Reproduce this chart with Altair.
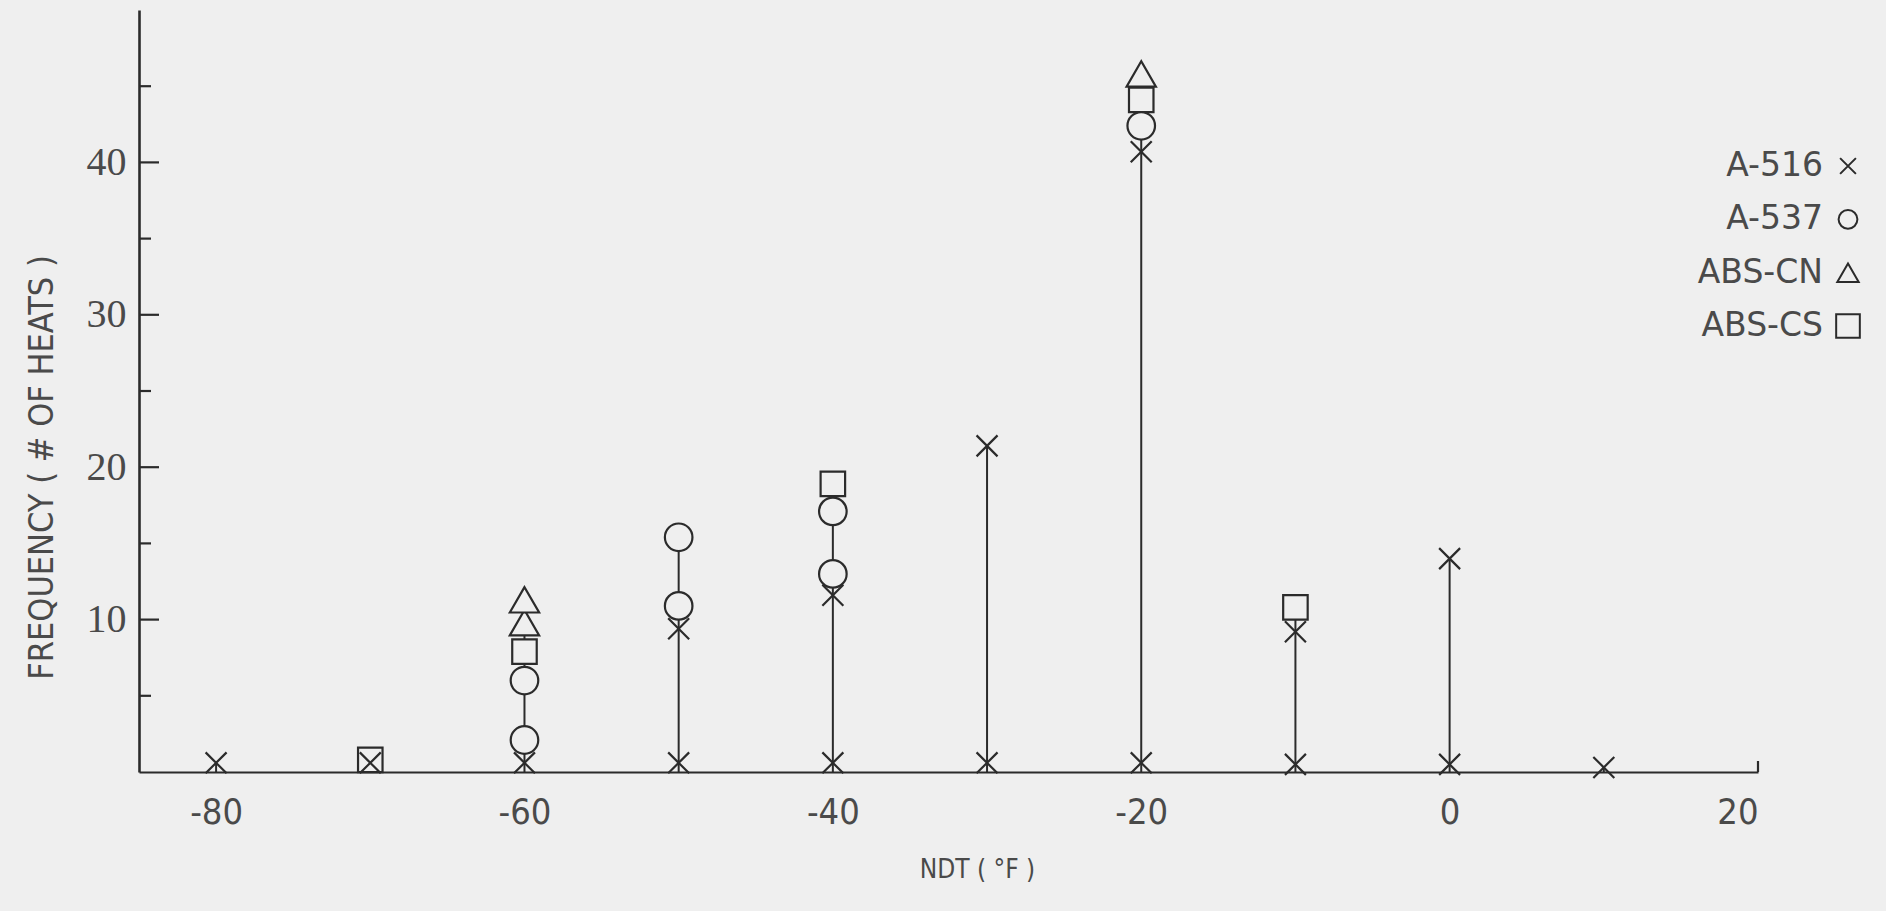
import altair as alt
import pandas as pd

# ---- data ----
a516_ndt = [-80, -70, -60, -50, -40, -30, -20, -10, 0, 10, -50, -40, -30, -20, -10, 0]
a516_freq = [0.6, 0.6, 0.6, 0.6, 0.6, 0.6, 0.6, 0.5, 0.5, 0.3, 9.4, 11.6, 21.4, 40.7, 9.2, 14.0]

a537_ndt = [-60, -60, -50, -50, -40, -40, -20]
a537_freq = [2.1, 6.0, 10.9, 15.4, 13.0, 17.1, 42.4]

abscn_ndt = [-60, -60, -20]
abscn_freq = [9.8, 11.3, 45.8]

abscs_ndt = [-70, -60, -40, -20, -10]
abscs_freq = [0.8, 7.9, 18.9, 44.1, 10.8]

series_order = ["A-516", "A-537", "ABS-CN", "ABS-CS"]
x_tick_values = [-80, -60, -40, -20, 0, 20]
y_label_values = [10, 20, 30, 40]
y_major_ticks = [10, 20, 30, 40]
y_minor_ticks = [5, 15, 25, 35, 45]
x_end_tick = [20]

# ---- style ----
bg = "#efefef"
ink = "#2b2b2b"
txt = "#4a4a4a"
sans = "DejaVu Sans Condensed, Liberation Sans Narrow, sans-serif"
legend_font = "DejaVu Sans, sans-serif"
serif = "Liberation Serif, DejaVu Serif, serif"

rows = []
for name, xs, ys in [("ABS-CS", abscs_ndt, abscs_freq),
                     ("ABS-CN", abscn_ndt, abscn_freq),
                     ("A-537", a537_ndt, a537_freq),
                     ("A-516", a516_ndt, a516_freq)]:
    for xv, yv in zip(xs, ys):
        rows.append({"series": name, "ndt": xv, "freq": yv})
df = pd.DataFrame(rows)
legend_df = pd.DataFrame({"series": series_order})

W, H = 1619, 762
xscale = alt.Scale(domain=[-85, 20], nice=False, zero=False)
yscale = alt.Scale(domain=[0, 50], nice=False)

xaxis = alt.Axis(values=x_tick_values, ticks=False, grid=False, domainColor=ink, domainWidth=2.2,
                 labelFont=sans, labelFontSize=36, labelColor=txt, labelPadding=23,
                 labelExpr="'' + datum.value",
                 title="NDT ( °F )", titleFont=sans, titleFontSize=26, titleFontWeight="normal",
                 titleColor=txt, titleX=838, titleY=97, titleBaseline="middle", titleAlign="center")
yaxis = alt.Axis(values=y_label_values, ticks=False, grid=False, domainColor=ink, domainWidth=2.6,
                 labelFont=serif, labelFontSize=40, labelColor=txt, labelPadding=13,
                 title="FREQUENCY ( # OF HEATS )", titleFont=sans, titleFontSize=34,
                 titleFontWeight="normal", titleColor=txt, titleAngle=270,
                 titleX=-97, titleY=457, titleAlign="center", titleBaseline="middle")

stems = alt.Chart(df).transform_aggregate(
    top="max(freq)", groupby=["ndt"]
).transform_calculate(base="0").mark_rule(color=ink, strokeWidth=2).encode(
    x=alt.X("ndt:Q", scale=xscale, axis=xaxis),
    y=alt.Y("base:Q", scale=yscale, axis=yaxis),
    y2="top:Q",
)

major = alt.Chart(pd.DataFrame({"v": y_major_ticks})).mark_rule(color=ink, strokeWidth=2.2).encode(
    y=alt.Y("v:Q", scale=yscale, axis=None), x=alt.value(0), x2=alt.value(20))
minor = alt.Chart(pd.DataFrame({"v": y_minor_ticks})).mark_rule(color=ink, strokeWidth=2.2).encode(
    y=alt.Y("v:Q", scale=yscale, axis=None), x=alt.value(0), x2=alt.value(12))
end_tick = alt.Chart(pd.DataFrame({"v": x_end_tick})).mark_rule(color=ink, strokeWidth=2.2).encode(
    x=alt.X("v:Q", scale=xscale), y=alt.value(H), y2=alt.value(H - 11))

shapes = ["M-1,-1L1,1M1,-1L-1,1", "circle", "triangle-up", "square"]
sizes = {"A-516": 440, "A-537": 760, "ABS-CN": 860, "ABS-CS": 600}
shape_scale = alt.Scale(domain=series_order, range=shapes)

point_layers = []
for name in ["ABS-CS", "ABS-CN", "A-537", "A-516"]:
    point_layers.append(
        alt.Chart(df).transform_filter(alt.datum.series == name).mark_point(
            filled=True, fill=bg, stroke=ink, strokeWidth=2.2, opacity=1, size=sizes[name]
        ).encode(
            x=alt.X("ndt:Q", scale=xscale),
            y=alt.Y("freq:Q", scale=yscale, axis=None),
            shape=alt.Shape("series:N", scale=shape_scale, legend=None),
        )
    )

# ---- legend: label text followed by its symbol ----
leg_y = alt.Y("series:N", scale=alt.Scale(type="point", domain=series_order, range=[156, 316],
                                           padding=0), axis=None)
leg_text = alt.Chart(legend_df).mark_text(
    font=legend_font, fontSize=33, color=txt, align="right", baseline="middle"
).encode(text="series:N", y=leg_y, x=alt.value(1684))
leg_sym = alt.Chart(legend_df).mark_point(
    filled=True, fill=bg, stroke=ink, strokeWidth=2, opacity=1
).encode(
    y=leg_y, x=alt.value(1709),
    shape=alt.Shape("series:N", scale=shape_scale, legend=None),
    size=alt.Size("series:N", scale=alt.Scale(domain=series_order, range=[250, 560, 660, 520]),
                  legend=None),
)

chart = alt.layer(stems, major, minor, end_tick, *point_layers, leg_text, leg_sym).resolve_scale(
    y="independent"
).properties(
    width=W, height=H,
    autosize=alt.AutoSizeParams(type="none"),
    padding={"left": 139, "top": 10, "right": 128, "bottom": 139},
    background=bg,
).configure_view(stroke=None)

chart.save("out.html", embed_options={"renderer": "svg", "actions": False})
